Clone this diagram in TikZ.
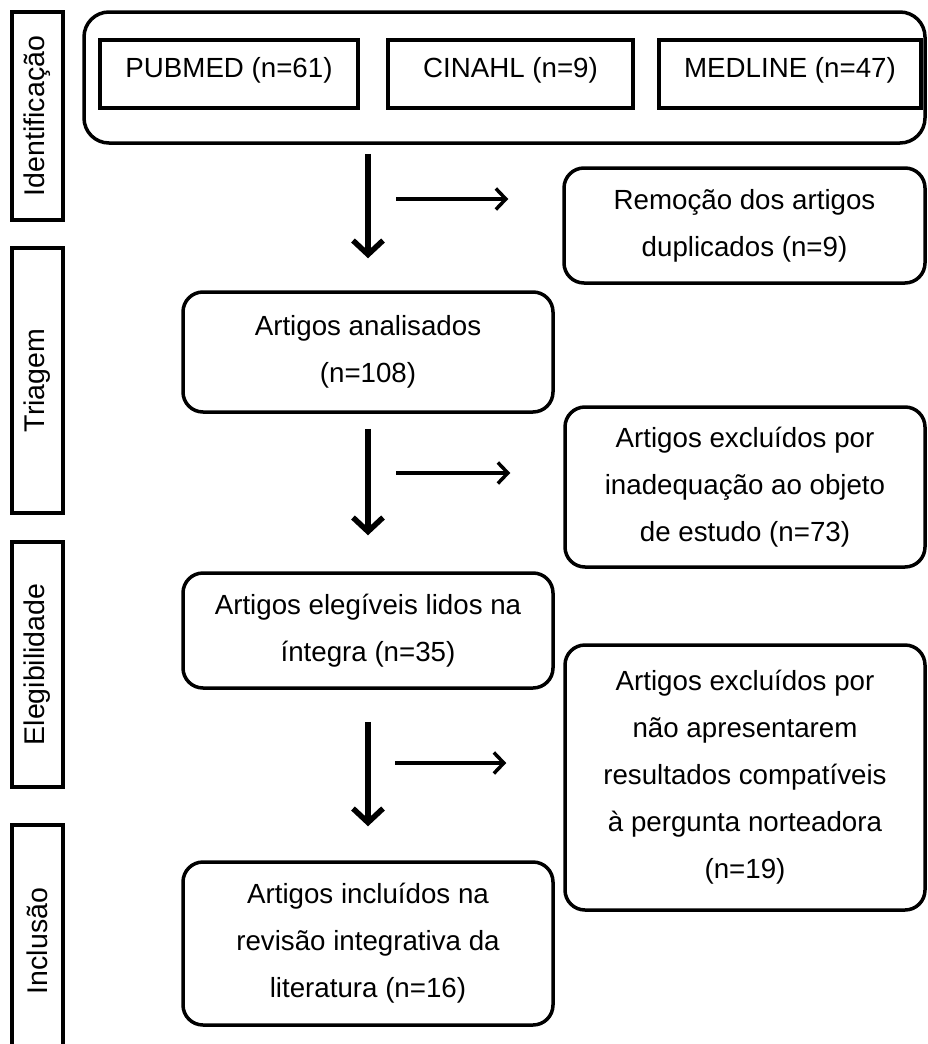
\documentclass[tikz,border=0pt]{standalone}
\usepackage{fontspec}
\setmainfont{Liberation Sans}
\usetikzlibrary{arrows.meta}

\begin{document}
\begin{tikzpicture}[x=1pt, y=-1pt,
  txt/.style={font=\fontsize{27.7}{47}\selectfont, align=center, inner sep=0pt},
  base/.style={txt, draw, line width=3.5pt},
  stage/.style={base, rotate=90, minimum height=51pt, font=\fontsize{28.5}{34}\selectfont},
  db/.style={base, minimum height=68pt, text depth=14pt},
  flow/.style={base, rounded corners=20pt, minimum width=#1},
  vflow/.style={line width=5.5pt, -{Straight Barb[length=14pt, width=30pt]}},
  hflow/.style={line width=3.5pt, -{Straight Barb[length=10pt, width=21pt]}}]
\useasboundingbox (0,0) rectangle (927,1044);

% stages
\node[stage, minimum width=208pt] (sid) at (37.5,116) {Identificação};
\node[stage, minimum width=265pt] (stri) at (37.5,380.5) {Triagem};
\node[stage, minimum width=245pt] (sele) at (37.5,664.5) {Elegibilidade};
\node[stage, minimum width=232pt] (sinc) at (37.5,941) {Inclusão};

% bases de dados
\node[base, rounded corners=25pt, minimum width=841pt, minimum height=131pt]
  (fontes) at (504.5,77.5) {};
\node[db, minimum width=258pt] (pubmed) at (229,74) {PUBMED (n=61)};
\node[db, minimum width=245pt] (cinahl) at (510.5,74) {CINAHL (n=9)};
\node[db, minimum width=262pt] (medline) at (790,74) {MEDLINE (n=47)};

% caixas
\node[flow=361pt, minimum height=115pt] (remocao) at (744.5,225.5)
  {Remoção dos artigos\\duplicados (n=9)};
\node[flow=370pt, minimum height=120pt] (analis) at (368,352)
  {Artigos analisados\\(n=108)};
\node[flow=360pt, minimum height=160pt] (excl1) at (745,487)
  {Artigos excluídos por\\inadequação ao objeto\\de estudo (n=73)};
\node[flow=370pt, minimum height=115pt] (elegiv) at (368,630.5)
  {Artigos elegíveis lidos na\\íntegra (n=35)};
\node[flow=360pt, minimum height=265pt] (excl2) at (745,777.5)
  {Artigos excluídos por\\não apresentarem\\resultados compatíveis\\à pergunta norteadora\\(n=19)};
\node[flow=370pt, minimum height=163pt] (inclu) at (368,943.5)
  {Artigos incluídos na\\revisão integrativa da\\literatura (n=16)};

% setas
\draw[vflow, shorten <=9pt, shorten >=32pt] (analis.north |- fontes.south) -- (analis.north);
\draw[vflow, shorten <=15pt, shorten >=36pt] (analis.south) -- (elegiv.north);
\draw[vflow, shorten <=32pt, shorten >=34pt] (elegiv.south) -- (inclu.north);
\coordinate (r1) at (396,199);
\coordinate (r2) at (396,473);
\coordinate (r3) at (395,763);
\draw[hflow, shorten >=54pt] (r1) -- (remocao.west |- r1);
\draw[hflow, shorten >=53pt] (r2) -- (excl1.west |- r2);
\draw[hflow, shorten >=57pt] (r3) -- (excl2.west |- r3);
\end{tikzpicture}
\end{document}
